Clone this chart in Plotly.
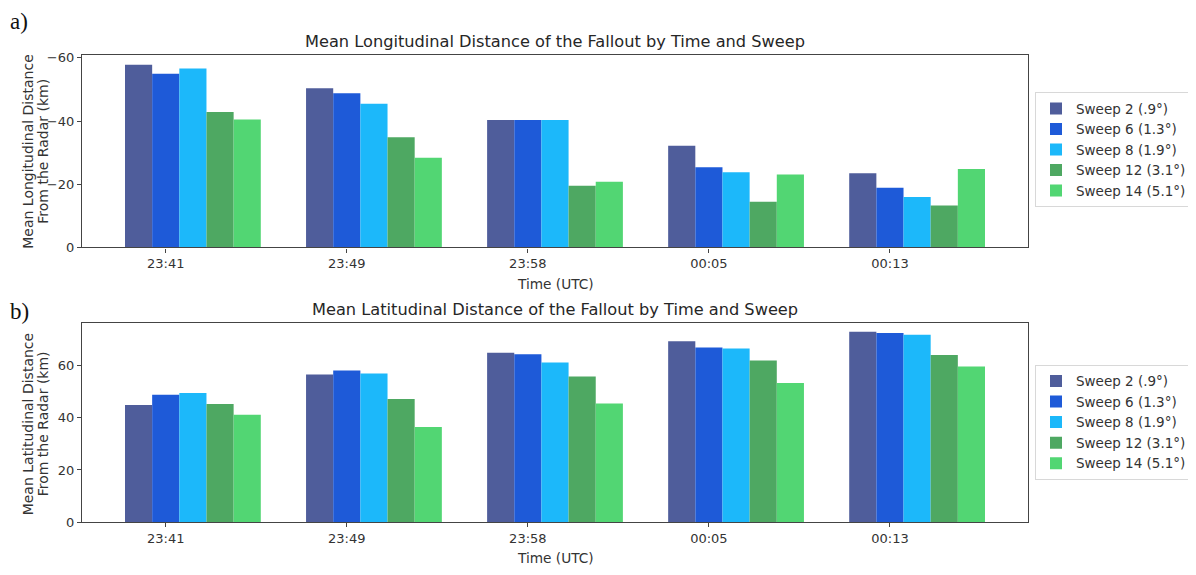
import plotly.graph_objects as go

times = ["23:41", "23:49", "23:58", "00:05", "00:13"]
sweeps = ["Sweep 2 (.9°)", "Sweep 6 (1.3°)", "Sweep 8 (1.9°)", "Sweep 12 (3.1°)", "Sweep 14 (5.1°)"]
colors = ["#4f5d9b", "#1e5ad8", "#1cb8fa", "#4ea862", "#52d673"]

# Mean longitudinal distance (km, negative = west of radar)
lon_sweep2 = [-57.8, -50.4, -40.3, -32.2, -23.5]
lon_sweep6 = [-55.0, -48.8, -40.3, -25.4, -18.9]
lon_sweep8 = [-56.6, -45.5, -40.3, -23.8, -16.0]
lon_sweep12 = [-42.9, -34.9, -19.5, -14.5, -13.3]
lon_sweep14 = [-40.5, -28.4, -20.8, -23.1, -24.8]

# Mean latitudinal distance (km)
lat_sweep2 = [44.9, 56.6, 65.0, 69.4, 73.0]
lat_sweep6 = [48.9, 58.2, 64.4, 67.0, 72.6]
lat_sweep8 = [49.5, 57.0, 61.2, 66.6, 71.9]
lat_sweep12 = [45.3, 47.2, 55.9, 62.0, 64.1]
lat_sweep14 = [41.2, 36.5, 45.5, 53.4, 59.7]

lon_all = [lon_sweep2, lon_sweep6, lon_sweep8, lon_sweep12, lon_sweep14]
lat_all = [lat_sweep2, lat_sweep6, lat_sweep8, lat_sweep12, lat_sweep14]

# page body has an 8px margin; the figure is laid out in window pixels minus that offset
OFF = 8
W, H = 1196 - OFF, 575 - OFF
BAR_W = 0.15


def px_x(v):
    return (v - OFF) / W


def px_y(v):
    return 1 - (v - OFF) / H


fig = go.Figure()
for k in range(5):
    off = -0.225 + k * BAR_W
    fig.add_trace(go.Bar(x=times, y=lon_all[k], name=sweeps[k], marker_color=colors[k],
                         marker_line_width=0, width=BAR_W, offset=off,
                         xaxis="x", yaxis="y", legend="legend"))
for k in range(5):
    off = -0.225 + k * BAR_W
    fig.add_trace(go.Bar(x=times, y=lat_all[k], name=sweeps[k], marker_color=colors[k],
                         marker_line_width=0, width=BAR_W, offset=off,
                         xaxis="x2", yaxis="y2", legend="legend2"))

axis_font = dict(family="DejaVu Sans", size=13, color="#333333")
common_x = dict(type="category", range=[-0.4625, 4.7625], showline=True, linecolor="#444444",
                linewidth=1.2, mirror=True, ticks="outside", ticklen=4, tickcolor="#444444",
                showgrid=False, zeroline=False, tickfont=axis_font,
                domain=[px_x(82), px_x(1028)])
common_y = dict(showline=True, linecolor="#444444", linewidth=1.2, mirror=True, ticks="outside",
                ticklen=4, tickcolor="#444444", showgrid=False, zeroline=False, tickfont=axis_font,
                dtick=20)

legend_common = dict(bordercolor="#d8d8d8", borderwidth=1, bgcolor="white",
                     font=dict(family="DejaVu Sans", size=13.5, color="#333333"),
                     xanchor="left", yanchor="top", x=px_x(1035), tracegroupgap=0)

fig.update_layout(
    width=W, height=H, margin=dict(l=0, r=0, t=0, b=0),
    paper_bgcolor="white", plot_bgcolor="white", barmode="overlay",
    xaxis=dict(**common_x, anchor="y"),
    yaxis=dict(**common_y, range=[0, -60.9], domain=[px_y(248), px_y(51)], anchor="x"),
    xaxis2=dict(**common_x, anchor="y2"),
    yaxis2=dict(**common_y, range=[0, 76.5], domain=[px_y(529), px_y(325)], anchor="x2"),
    legend=dict(**legend_common, y=px_y(89)),
    legend2=dict(**legend_common, y=px_y(368)),
)

title_font = dict(family="DejaVu Sans", size=16.2, color="#262626")
label_font = dict(family="DejaVu Sans", size=13.7, color="#333333")
ylab_font = dict(family="DejaVu Sans", size=14, color="#333333")
ann = [
    dict(text="Mean Longitudinal Distance of the Fallout by Time and Sweep", x=px_x(555), y=px_y(37),
         font=title_font),
    dict(text="Mean Latitudinal Distance of the Fallout by Time and Sweep", x=px_x(555), y=px_y(311),
         font=title_font),
    dict(text="Time (UTC)", x=px_x(555), y=px_y(285), font=label_font),
    dict(text="Time (UTC)", x=px_x(555), y=px_y(566), font=label_font),
    dict(text="Mean Longitudinal Distance", x=px_x(28), y=px_y(150), textangle=-90, font=ylab_font),
    dict(text="From the Radar (km)", x=px_x(43), y=px_y(150), textangle=-90, font=ylab_font),
    dict(text="Mean Latitudinal Distance", x=px_x(28), y=px_y(429), textangle=-90, font=ylab_font),
    dict(text="From the Radar (km)", x=px_x(43), y=px_y(429), textangle=-90, font=ylab_font),
    dict(text="a)", x=px_x(19), y=px_y(17), font=dict(family="Liberation Serif", size=23, color="#111111")),
    dict(text="b)", x=px_x(19), y=px_y(313), font=dict(family="Liberation Serif", size=23, color="#111111")),
]
for a in ann:
    a.update(xref="paper", yref="paper", showarrow=False, xanchor="center", yanchor="middle")
fig.update_layout(annotations=ann)

fig.write_html("out.html")
